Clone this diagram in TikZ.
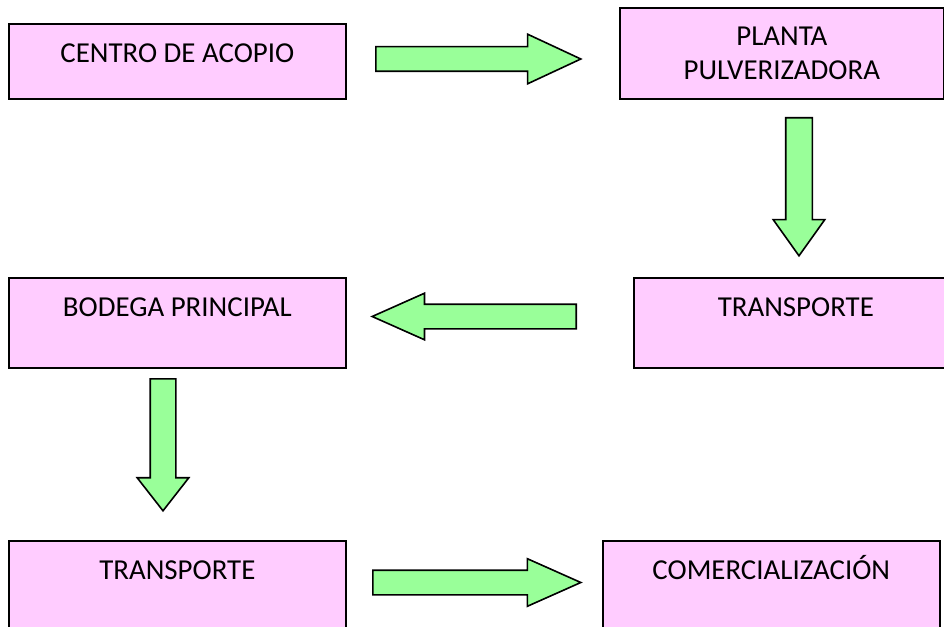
\documentclass[tikz,border=0pt]{standalone}
\usepackage{fontspec}
\setmainfont{Carlito}
\usetikzlibrary{shapes.arrows, positioning}
\definecolor{rosa}{HTML}{FFCCFF}
\definecolor{verde}{HTML}{99FF99}
\tikzstyle{caja} = [rectangle, draw=black, fill=rosa, line width=1.6bp, inner sep=0pt, minimum width=337bp, text height=39bp, text depth=36bp, font=\fontsize{29}{35}\selectfont]
\tikzstyle{cajaalta} = [caja, text depth=51bp]
\tikzstyle{flecha} = [single arrow, draw=black, fill=verde, line width=1.6bp, inner xsep=0pt, inner ysep=11.5bp, single arrow head extend=12.5bp, single arrow tip angle=50, anchor=tail]

\begin{document}
\begin{tikzpicture}[x=1bp, y=-1bp]
\useasboundingbox (0,0) rectangle (944,627);

% Cajas
\node (acopio) [caja, anchor=north west] at (8,23) {CENTRO DE ACOPIO};
\node (planta) [caja, anchor=north west, minimum width=324bp, minimum height=91bp, text height=, text depth=, align=center, yshift=2bp] at (619,9) {PLANTA\\PULVERIZADORA};
\node (transA) [cajaalta, anchor=north west, minimum width=324bp] at (633,277) {TRANSPORTE};
\node (bodega) [cajaalta, anchor=north west] at (8,277) {BODEGA PRINCIPAL};
\node (transB) [cajaalta, anchor=north west] at (8,540) {TRANSPORTE};
\node (comerc) [cajaalta, anchor=north west] at (602,540) {COMERCIALIZACIÓN};

% Flechas
\node (f1) [flecha, minimum height=205bp] at (375,59) {};
\node (f2) [flecha, rotate=-90, minimum height=138bp, inner ysep=12.5bp, single arrow head extend=12.5bp, single arrow tip angle=71] at (799,117) {};
\node (f3) [flecha, rotate=180, minimum height=204bp, single arrow head extend=11bp, single arrow tip angle=48] at (577,316.5) {};
\node (f4) [flecha, rotate=-90, minimum height=132bp, inner ysep=12bp, single arrow head extend=13bp, single arrow tip angle=76] at (163,378) {};
\node (f5) [flecha, minimum height=208bp, single arrow head extend=11.5bp, single arrow tip angle=48] at (372,582.5) {};

\end{tikzpicture}
\end{document}
